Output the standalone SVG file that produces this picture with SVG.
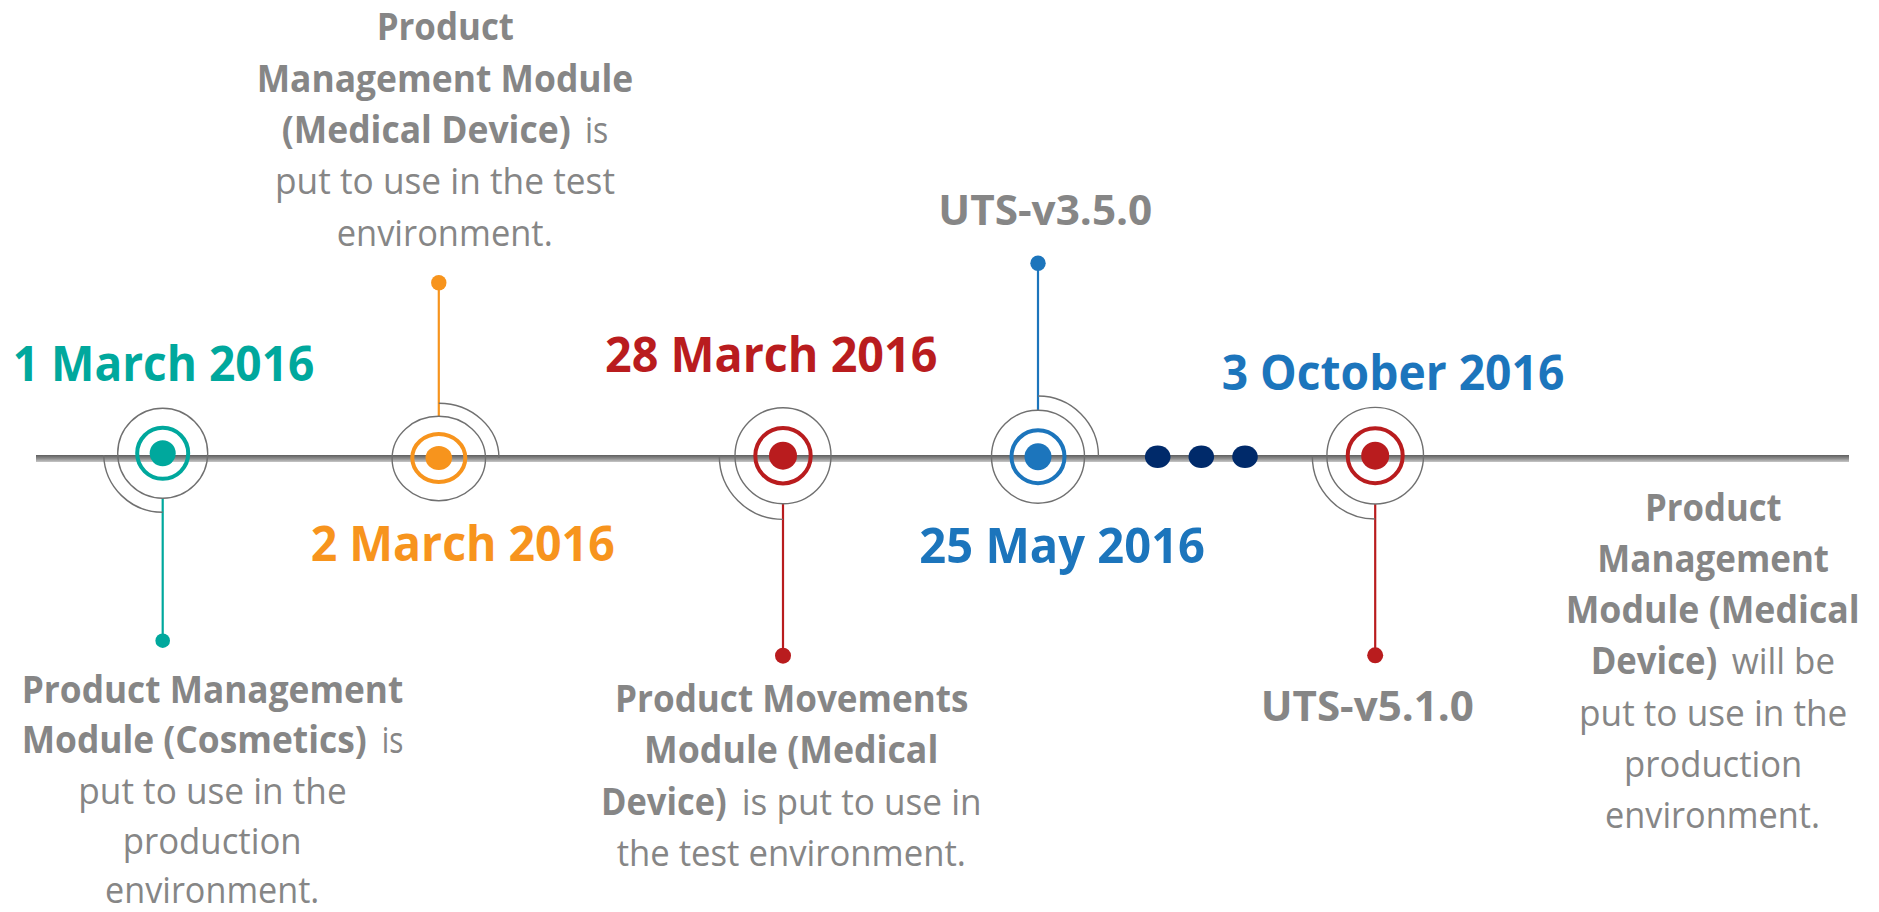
<svg xmlns="http://www.w3.org/2000/svg" width="1879" height="912" viewBox="0 0 1879 912">
<defs>
<linearGradient id="axisGrad" x1="0" y1="0" x2="0" y2="1">
<stop offset="0" stop-color="#5e5e5e"/>
<stop offset="0.5" stop-color="#8c8c8c"/>
<stop offset="1" stop-color="#c6c6c6"/>
</linearGradient>
<style>
.ring{fill:none;stroke:#707070;stroke-width:1.4}
.arc{fill:none;stroke:#707070;stroke-width:1.4}
.date{font-family:"Open Sans","Liberation Sans",sans-serif;font-weight:700;font-size:49px;text-anchor:middle}
.uts{font-family:"Open Sans","Liberation Sans",sans-serif;font-weight:700;font-size:42px;text-anchor:middle;fill:#868686}
.body{font-family:"Open Sans","Liberation Sans",sans-serif;font-weight:400;font-size:37px;text-anchor:middle;fill:#868686}
.st{text-anchor:start}
.b{font-weight:700}
.teal{fill:#00a89d}
.orange{fill:#f7941d}
.red{fill:#b91c1e}
.blue{fill:#1c75bc}
.stem{stroke-width:2.2}
</style>
</defs>
<rect width="1879" height="912" fill="#ffffff"/>

<g id="connectors">
<rect x="36" y="455" width="1813" height="7" fill="url(#axisGrad)"/>
<line class="stem" x1="162.7" y1="498" x2="162.7" y2="640.7" stroke="#00a89d"/>
<circle cx="162.7" cy="640.7" r="7.3" fill="#00a89d"/>
<line class="stem" x1="438.8" y1="416" x2="438.8" y2="282.7" stroke="#f7941d"/>
<circle cx="438.8" cy="282.7" r="7.7" fill="#f7941d"/>
<line class="stem" x1="783" y1="504" x2="783" y2="655.7" stroke="#b91c1e"/>
<circle cx="783" cy="655.7" r="8" fill="#b91c1e"/>
<line class="stem" x1="1038" y1="410" x2="1038" y2="263.3" stroke="#1c75bc"/>
<circle cx="1038" cy="263.3" r="7.7" fill="#1c75bc"/>
<line class="stem" x1="1375.2" y1="504" x2="1375.2" y2="655.3" stroke="#b91c1e"/>
<circle cx="1375.2" cy="655.3" r="8" fill="#b91c1e"/>
</g>

<g id="node-1-march">
<circle class="ring" cx="162.7" cy="453.3" r="45"/>
<path class="arc" d="M103.7,455 A59,59 0 0 0 162.7,512.3"/>
<circle cx="162.7" cy="453.3" r="25.5" fill="none" stroke="#00a89d" stroke-width="4"/>
<circle cx="162.7" cy="453.3" r="13" fill="#00a89d"/>
<text class="date teal" x="163.5" y="381" textLength="301.6" lengthAdjust="spacingAndGlyphs">1 March 2016</text>
<text class="body b" x="212.5" y="702.7" textLength="381.6" lengthAdjust="spacingAndGlyphs">Product Management</text>
<text class="body b st" x="21.7" y="752.8" textLength="345" lengthAdjust="spacingAndGlyphs">Module (Cosmetics)</text>
<text class="body st" x="381.7" y="752.8" textLength="21.6" lengthAdjust="spacingAndGlyphs">is</text>
<text class="body" x="212.5" y="803.5" textLength="268.4" lengthAdjust="spacingAndGlyphs">put to use in the</text>
<text class="body" x="212.2" y="853.5" textLength="179" lengthAdjust="spacingAndGlyphs">production</text>
<text class="body" x="212.2" y="902.5" textLength="214.3" lengthAdjust="spacingAndGlyphs">environment.</text>
</g>

<g id="node-2-march">
<ellipse class="ring" cx="438.8" cy="458.5" rx="46.7" ry="42.2"/>
<path class="arc" d="M438.8,403.3 A60.3,55 0 0 1 499,458"/>
<ellipse cx="438.8" cy="458" rx="26.5" ry="24" fill="none" stroke="#f7941d" stroke-width="4"/>
<ellipse cx="438.8" cy="458" rx="13.3" ry="12" fill="#f7941d"/>
<text class="date orange" x="462.7" y="560.7" textLength="304" lengthAdjust="spacingAndGlyphs">2 March 2016</text>
<text class="body b" x="445.3" y="40" textLength="137.3" lengthAdjust="spacingAndGlyphs">Product</text>
<text class="body b" x="445" y="91.7" textLength="376.6" lengthAdjust="spacingAndGlyphs">Management Module</text>
<text class="body b st" x="281.7" y="142.7" textLength="289" lengthAdjust="spacingAndGlyphs">(Medical Device)</text>
<text class="body st" x="585" y="142.7" textLength="23.3" lengthAdjust="spacingAndGlyphs">is</text>
<text class="body" x="445" y="194.3" textLength="340" lengthAdjust="spacingAndGlyphs">put to use in the test</text>
<text class="body" x="444.7" y="246" textLength="216" lengthAdjust="spacingAndGlyphs">environment.</text>
</g>

<g id="node-28-march">
<circle class="ring" cx="783" cy="455.7" r="48"/>
<path class="arc" d="M719.3,455.7 A63.7,63.7 0 0 0 783,519.4"/>
<circle cx="783" cy="455.7" r="27.7" fill="none" stroke="#b91c1e" stroke-width="4"/>
<circle cx="783" cy="455.7" r="14" fill="#b91c1e"/>
<text class="date red" x="771.2" y="372.3" textLength="332.3" lengthAdjust="spacingAndGlyphs">28 March 2016</text>
<text class="body b" x="791.7" y="711.7" textLength="353.3" lengthAdjust="spacingAndGlyphs">Product Movements</text>
<text class="body b" x="791.2" y="763.3" textLength="294.3" lengthAdjust="spacingAndGlyphs">Module (Medical</text>
<text class="body b st" x="601" y="815" textLength="125.7" lengthAdjust="spacingAndGlyphs">Device)</text>
<text class="body st" x="741.7" y="815" textLength="240" lengthAdjust="spacingAndGlyphs">is put to use in</text>
<text class="body" x="791.3" y="866" textLength="349.3" lengthAdjust="spacingAndGlyphs">the test environment.</text>
</g>

<g id="node-25-may">
<circle class="ring" cx="1038" cy="456.7" r="46.5"/>
<path class="arc" d="M1038,396 A60.5,60.5 0 0 1 1098.5,456.5"/>
<circle cx="1038" cy="456.7" r="26.5" fill="none" stroke="#1c75bc" stroke-width="4"/>
<circle cx="1038" cy="456.7" r="13.5" fill="#1c75bc"/>
<text class="date blue" x="1062.2" y="563.3" textLength="285.7" lengthAdjust="spacingAndGlyphs">25 May 2016</text>
<text class="uts" x="1045.3" y="225" textLength="214" lengthAdjust="spacingAndGlyphs">UTS-v3.5.0</text>
</g>

<g id="ellipsis">
<ellipse cx="1157.7" cy="456.7" rx="12.8" ry="11.3" fill="#002a6a"/>
<ellipse cx="1201.3" cy="456.7" rx="12.8" ry="11.3" fill="#002a6a"/>
<ellipse cx="1245" cy="456.7" rx="12.8" ry="11.3" fill="#002a6a"/>
</g>

<g id="node-3-october">
<circle class="ring" cx="1375.2" cy="455.7" r="48.3"/>
<path class="arc" d="M1312.3,455.7 A63,63 0 0 0 1375.2,519"/>
<circle cx="1375.2" cy="455.7" r="27.5" fill="none" stroke="#b91c1e" stroke-width="4"/>
<circle cx="1375.2" cy="455.7" r="14" fill="#b91c1e"/>
<text class="date blue" x="1393" y="390" textLength="342.6" lengthAdjust="spacingAndGlyphs">3 October 2016</text>
<text class="uts" x="1367.3" y="720.7" textLength="213.3" lengthAdjust="spacingAndGlyphs">UTS-v5.1.0</text>
<text class="body b" x="1713.3" y="520.7" textLength="136.7" lengthAdjust="spacingAndGlyphs">Product</text>
<text class="body b" x="1713.2" y="571.7" textLength="231.7" lengthAdjust="spacingAndGlyphs">Management</text>
<text class="body b" x="1712.7" y="623.3" textLength="294" lengthAdjust="spacingAndGlyphs">Module (Medical</text>
<text class="body b st" x="1590.7" y="674" textLength="126.6" lengthAdjust="spacingAndGlyphs">Device)</text>
<text class="body st" x="1731.7" y="674" textLength="103.3" lengthAdjust="spacingAndGlyphs">will be</text>
<text class="body" x="1713.2" y="726" textLength="268.3" lengthAdjust="spacingAndGlyphs">put to use in the</text>
<text class="body" x="1713.2" y="776.7" textLength="178.3" lengthAdjust="spacingAndGlyphs">production</text>
<text class="body" x="1712.5" y="828.3" textLength="215" lengthAdjust="spacingAndGlyphs">environment.</text>
</g>
</svg>
